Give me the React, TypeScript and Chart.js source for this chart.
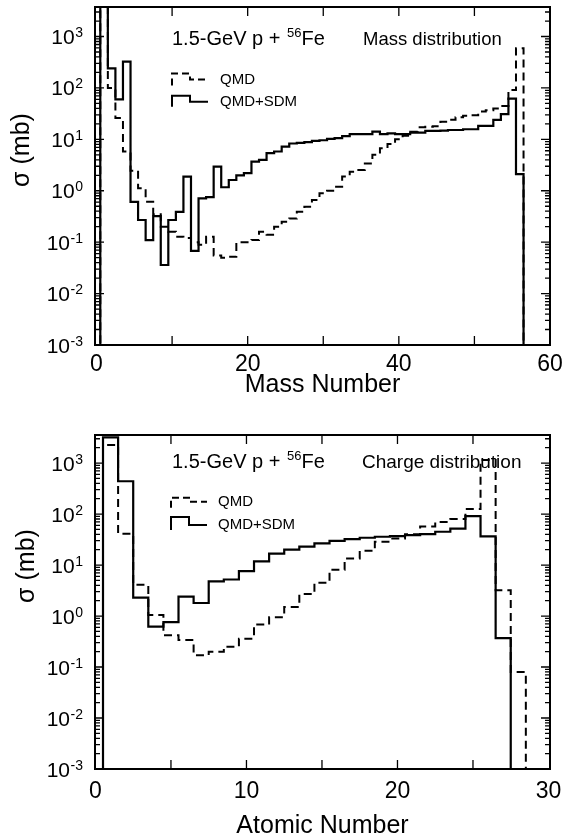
import React, { useEffect, useRef } from "react";
import { Chart, registerables } from "chart.js";

Chart.register(...registerables);

const FONT = "'Liberation Sans', Arial, Helvetica, sans-serif";

// ---------- Data: mass distribution (top panel) ----------
const massNumbers = [
  1, 2, 3, 4, 5, 6, 7, 8, 9, 10, 11, 12, 13, 14, 15, 16, 17, 18, 19, 20,
  21, 22, 23, 24, 25, 26, 27, 28, 29, 30, 31, 32, 33, 34, 35, 36, 37, 38, 39, 40,
  41, 42, 43, 44, 45, 46, 47, 48, 49, 50, 51, 52, 53, 54, 55, 56,
];
const massQMD = [
  4500, 100, 26, 5.8, 2.46, 1.12, 0.61, 0.35, 0.2, 0.16,
  0.128, 0.12, 0.1, 0.089, 0.128, 0.055, 0.05, 0.052, 0.1, 0.1,
  0.11, 0.16, 0.14, 0.2, 0.25, 0.29, 0.39, 0.49, 0.66, 0.89,
  1.0, 1.2, 1.9, 2.35, 2.54, 3.4, 5.0, 6.7, 8.1, 10,
  11.8, 14.1, 17.2, 17.5, 18, 22, 24, 27, 28.8, 29.5,
  34.7, 37, 40, 44.7, 91, 590,
];
const massQMDSDM = [
  5000, 240, 60, 325, 0.61, 0.27, 0.11, 0.32, 0.036, 0.27,
  0.39, 1.88, 0.068, 0.71, 0.75, 2.95, 1.17, 1.62, 2.0, 2.2,
  3.7, 4.0, 5.4, 5.8, 7.2, 8.3, 8.5, 8.8, 9.3, 9.6,
  10.2, 10.6, 11.6, 12.6, 12.6, 12.6, 14.1, 12.6, 13.1, 12.6,
  12.6, 13.5, 13.5, 14.6, 14.6, 14.8, 15.2, 15.2, 15.7, 15.7,
  18.2, 18.2, 24, 31, 62, 2.1,
];
const massTickLabels = [0, 20, 40, 60];
const massTickMarks = [10, 20, 30, 40, 50];

// ---------- Data: charge distribution (bottom panel) ----------
const atomicNumbers = [
  1, 2, 3, 4, 5, 6, 7, 8, 9, 10, 11, 12, 13, 14, 15, 16, 17, 18, 19, 20,
  21, 22, 23, 24, 25, 26, 27, 28,
];
const chargeQMD = [
  2250, 41, 4.1, 1.05, 0.42, 0.34, 0.17, 0.2, 0.25, 0.36,
  0.68, 0.95, 1.5, 2.7, 4.5, 8.1, 13.5, 19, 28.6, 33,
  40, 57, 70, 80, 125, 1150, 3.2, 0.08,
];
const chargeQMDSDM: (number | null)[] = [
  3200, 440, 2.3, 0.62, 0.76, 2.4, 1.8, 4.8, 5.2, 7.6,
  11.8, 16.7, 20, 23, 26.6, 29.7, 32.3, 34.3, 35.9, 37,
  38.7, 40.5, 45, 52, 91, 36.5, 0.37, null,
];
const chargeTickLabels = [0, 10, 20, 30];
const chargeTickMarks = [5, 10, 15, 20, 25];

const yExponents = [-3, -2, -1, 0, 1, 2, 3];

// Build histogram outline (bin edges at value +/- 0.5) from the arrays
function stepPoints(xs: number[], ys: (number | null)[], floor = 1e-6) {
  const pts: { x: number; y: number }[] = [];
  let prev: number | null = null;
  for (let i = 0; i < xs.length; i++) {
    const v = ys[i];
    if (v == null) {
      if (prev != null) pts.push({ x: xs[i] - 0.5, y: floor });
      prev = null;
      continue;
    }
    if (prev == null) pts.push({ x: xs[i] - 0.5, y: floor });
    pts.push({ x: xs[i] - 0.5, y: v }, { x: xs[i] + 0.5, y: v });
    prev = v;
  }
  if (prev != null) pts.push({ x: xs[xs.length - 1] + 0.5, y: floor });
  return pts;
}

type Panel = {
  key: string;
  height: number;
  top: number;
  xs: number[];
  qmd: (number | null)[];
  sdm: (number | null)[];
  xMin: number;
  xMax: number;
  xLabels: number[];
  xMarks: number[];
  yMax: number;
  padTop: number;
  xAxisHeight: number;
  tickPad: number;
  titlePadBottom: number;
  xTitle: string;
  yTitleX: number;
  yTitleY: number;
  annY: number;
  rightText: string;
  rightX: number;
  rightSize: number;
  legDashY: number;
  legSolidY: number;
  legX: number;
  legTextX: number;
  dashUp: number;
  solidUp: number;
};

function makeDecor(p: Panel) {
  return {
    id: "decor" + p.key,
    afterDraw(chart: any) {
      const ctx: CanvasRenderingContext2D = chart.ctx;
      const a = chart.chartArea;
      const xs = chart.scales.x;
      const ys = chart.scales.y;
      ctx.save();
      ctx.strokeStyle = "#000";
      ctx.fillStyle = "#000";
      ctx.setLineDash([]);

      // inner tick marks
      ctx.lineWidth = 1.3;
      ctx.beginPath();
      for (const v of p.xMarks) {
        const px = xs.getPixelForValue(v);
        ctx.moveTo(px, a.bottom);
        ctx.lineTo(px, a.bottom - 9);
        ctx.moveTo(px, a.top);
        ctx.lineTo(px, a.top + 9);
      }
      for (let e = -3; e <= 3; e++) {
        for (let m = 1; m <= 9; m++) {
          const v = m * Math.pow(10, e);
          if (v < ys.min * 0.999 || v > ys.max) continue;
          const py = ys.getPixelForValue(v);
          const len = m === 1 ? 9 : 5;
          ctx.moveTo(a.left, py);
          ctx.lineTo(a.left + len, py);
          ctx.moveTo(a.right, py);
          ctx.lineTo(a.right - len, py);
        }
      }
      ctx.stroke();

      // frame
      ctx.lineWidth = 2;
      ctx.strokeRect(a.left, a.top, a.right - a.left, a.bottom - a.top);

      // y tick labels 10^n
      for (const t of ys.ticks) {
        const e = Math.round(Math.log10(t.value));
        const py = ys.getPixelForValue(t.value);
        const exp = String(e);
        ctx.font = `14px ${FONT}`;
        const ew = ctx.measureText(exp).width;
        const right = 83;
        ctx.textAlign = "left";
        ctx.textBaseline = "alphabetic";
        ctx.fillText(exp, right - ew, py + 0.5);
        ctx.font = `21px ${FONT}`;
        ctx.textAlign = "right";
        ctx.fillText("10", right - ew - 0.5, py + 7.5);
      }

      // y title
      ctx.save();
      ctx.translate(p.yTitleX, p.yTitleY);
      ctx.rotate(-Math.PI / 2);
      ctx.font = `25px ${FONT}`;
      ctx.textAlign = "center";
      ctx.textBaseline = "middle";
      ctx.fillText("σ (mb)", 0, 0);
      ctx.restore();

      // annotation "1.5-GeV p + 56Fe"
      ctx.textAlign = "left";
      ctx.textBaseline = "alphabetic";
      let x = 172;
      const by = p.annY + 7.2;
      ctx.font = `20px ${FONT}`;
      const t1 = "1.5-GeV p + ";
      ctx.fillText(t1, x, by);
      x += ctx.measureText(t1).width + 1;
      ctx.font = `13px ${FONT}`;
      ctx.fillText("56", x, by - 8);
      x += ctx.measureText("56").width;
      ctx.font = `20px ${FONT}`;
      ctx.fillText("Fe", x, by);

      ctx.font = `${p.rightSize}px ${FONT}`;
      ctx.fillText(p.rightText, p.rightX, p.annY + p.rightSize * 0.36);

      // legend
      const x0 = p.legX;
      ctx.lineWidth = 2;
      ctx.setLineDash([7, 4]);
      ctx.beginPath();
      ctx.moveTo(x0, p.legDashY + 6);
      ctx.lineTo(x0, p.legDashY - p.dashUp);
      ctx.lineTo(x0 + 18, p.legDashY - p.dashUp);
      ctx.lineTo(x0 + 18, p.legDashY);
      ctx.lineTo(x0 + 36, p.legDashY);
      ctx.stroke();
      ctx.setLineDash([]);
      ctx.beginPath();
      ctx.moveTo(x0, p.legSolidY + 5);
      ctx.lineTo(x0, p.legSolidY - p.solidUp);
      ctx.lineTo(x0 + 18, p.legSolidY - p.solidUp);
      ctx.lineTo(x0 + 18, p.legSolidY);
      ctx.lineTo(x0 + 36, p.legSolidY);
      ctx.stroke();
      ctx.font = `15px ${FONT}`;
      ctx.textBaseline = "middle";
      ctx.fillText("QMD", p.legTextX, p.legDashY);
      ctx.fillText("QMD+SDM", p.legTextX, p.legSolidY);

      ctx.restore();
    },
  };
}

function buildConfig(p: Panel): any {
  return {
    type: "line",
    data: {
      datasets: [
        {
          label: "QMD",
          data: stepPoints(p.xs, p.qmd),
          borderColor: "#000",
          borderWidth: 2,
          borderDash: [8, 5],
          pointRadius: 0,
          fill: false,
          tension: 0,
        },
        {
          label: "QMD+SDM",
          data: stepPoints(p.xs, p.sdm),
          borderColor: "#000",
          borderWidth: 2.2,
          pointRadius: 0,
          fill: false,
          tension: 0,
        },
      ],
    },
    options: {
      responsive: false,
      animation: false,
      events: [],
      layout: { padding: { top: p.padTop, right: 25, left: 0, bottom: 0 } },
      plugins: {
        legend: { display: false },
        tooltip: { enabled: false },
        title: { display: false },
      },
      scales: {
        x: {
          type: "linear",
          min: p.xMin,
          max: p.xMax,
          grid: { display: false, drawTicks: false },
          border: { display: false },
          afterBuildTicks: (s: any) => {
            s.ticks = p.xLabels.map((v) => ({ value: v }));
          },
          afterFit: (s: any) => {
            s.height = p.xAxisHeight;
          },
          ticks: {
            color: "#000",
            font: { family: FONT, size: 23, lineHeight: 1 },
            padding: p.tickPad,
            maxRotation: 0,
            autoSkip: false,
          },
          title: {
            display: true,
            text: p.xTitle,
            color: "#000",
            font: { family: FONT, size: 25, lineHeight: 1 },
            padding: { top: 0, bottom: p.titlePadBottom },
          },
        },
        y: {
          type: "logarithmic",
          min: 0.001,
          max: p.yMax,
          grid: { display: false, drawTicks: false },
          border: { display: false },
          ticks: { display: false },
          afterBuildTicks: (s: any) => {
            s.ticks = yExponents.map((e) => ({ value: Math.pow(10, e) }));
          },
          afterFit: (s: any) => {
            s.width = 95;
          },
        },
      },
    },
    plugins: [makeDecor(p)],
  };
}

const topPanel: Panel = {
  key: "mass",
  height: 415,
  top: 0,
  xs: massNumbers,
  qmd: massQMD,
  sdm: massQMDSDM,
  xMin: -0.2,
  xMax: 60,
  xLabels: massTickLabels,
  xMarks: massTickMarks,
  yMax: 3750,
  padTop: 7,
  xAxisHeight: 70,
  tickPad: 8,
  titlePadBottom: 17.5,
  xTitle: "Mass Number",
  yTitleX: 22,
  yTitleY: 150,
  annY: 38,
  rightText: "Mass distribution",
  rightX: 363,
  rightSize: 18.5,
  legDashY: 79.5,
  legSolidY: 101.7,
  legX: 172,
  legTextX: 220,
  dashUp: 6,
  solidUp: 6,
};

const bottomPanel: Panel = {
  key: "charge",
  height: 425,
  top: 415,
  xs: atomicNumbers,
  qmd: chargeQMD,
  sdm: chargeQMDSDM,
  xMin: -0.03,
  xMax: 30.1,
  xLabels: chargeTickLabels,
  xMarks: chargeTickMarks,
  yMax: 3550,
  padTop: 20,
  xAxisHeight: 71,
  tickPad: 11,
  titlePadBottom: 1,
  xTitle: "Atomic Number",
  yTitleX: 27,
  yTitleY: 151,
  annY: 46,
  rightText: "Charge distribution",
  rightX: 362,
  rightSize: 19,
  legDashY: 86.7,
  legSolidY: 110,
  legX: 171,
  legTextX: 218,
  dashUp: 4,
  solidUp: 8,
};

function ChartPanel({ panel }: { panel: Panel }) {
  const ref = useRef<HTMLCanvasElement>(null);
  useEffect(() => {
    if (!ref.current) return;
    const chart = new Chart(ref.current, buildConfig(panel));
    return () => chart.destroy();
  }, [panel]);
  return (
    <canvas
      ref={ref}
      width={575}
      height={panel.height}
      style={{
        position: "absolute",
        left: 0,
        top: panel.top,
        width: 575,
        height: panel.height,
        display: "block",
      }}
    />
  );
}

export default function App() {
  return (
    <div
      style={{
        position: "absolute",
        left: 0,
        top: 0,
        width: 575,
        height: 840,
        background: "#fff",
        overflow: "hidden",
      }}
    >
      <ChartPanel panel={topPanel} />
      <ChartPanel panel={bottomPanel} />
    </div>
  );
}
